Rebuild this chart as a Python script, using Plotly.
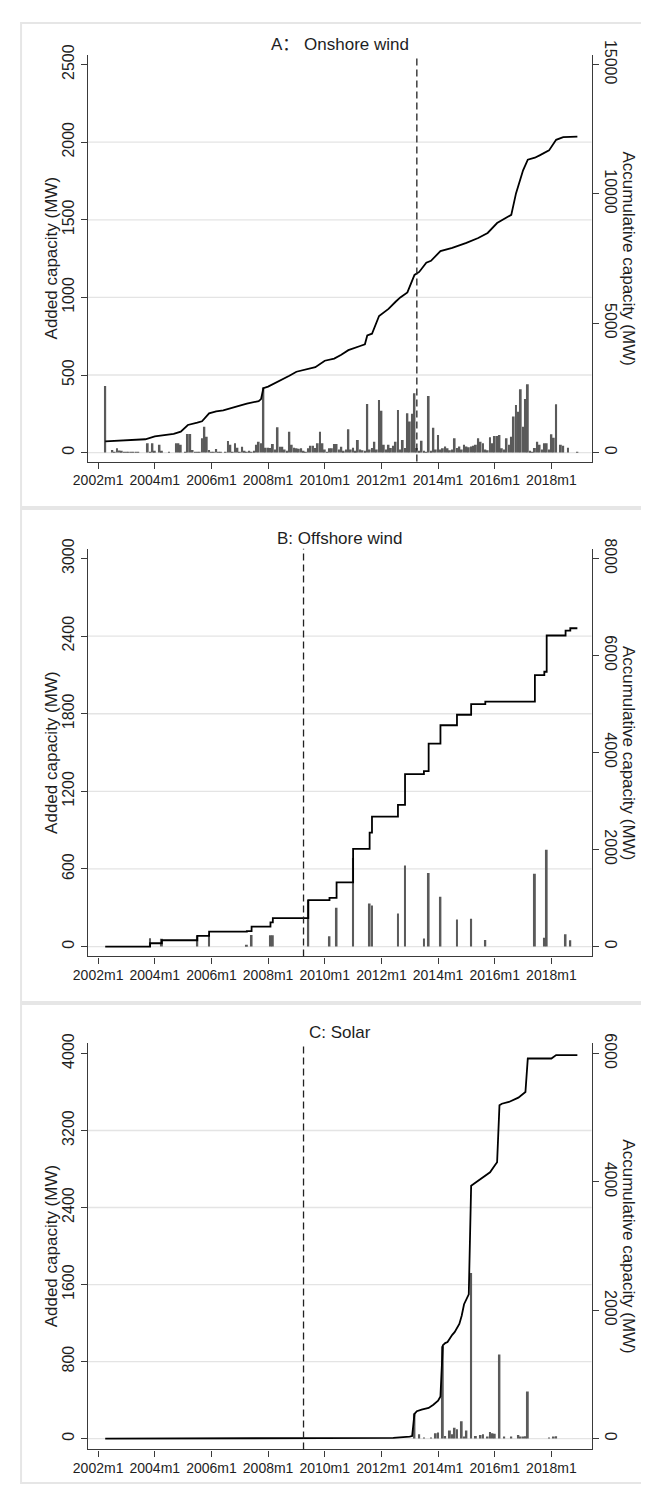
import plotly.graph_objects as go
import pandas as pd

W, H = 649, 1485
OFF = 8  # default body margin of the html page

# ---------------- DATA ----------------
# Panel A: onshore wind, monthly added capacity (MW) 2002m4 .. 2018m12
a_months = [str(p) for p in pd.period_range('2002-04', '2018-12', freq='M')]
a_added = (
    [430, 0, 0, 17, 5, 28, 13, 8, 6] +                      # 2002 (m4-m12)
    [5, 4, 3, 5, 3, 2, 0, 0, 0, 60, 5, 60] +                 # 2003
    [10, 0, 50, 12, 0, 0, 6, 0, 0, 60, 60, 50] +             # 2004
    [0, 5, 120, 120, 17, 6, 3, 2, 92, 167, 103, 17] +        # 2005
    [5, 3, 24, 5, 2, 0, 3, 75, 50, 5, 60, 32] +              # 2006
    [5, 38, 12, 5, 8, 6, 10, 50, 70, 60, 420, 32] +          # 2007
    [32, 30, 55, 20, 163, 38, 38, 20, 10, 135, 50, 32] +     # 2008
    [28, 25, 28, 10, 5, 28, 45, 45, 30, 60, 135, 60] +       # 2009
    [20, 5, 28, 28, 55, 55, 20, 38, 10, 20, 150, 20] +       # 2010
    [32, 10, 82, 20, 15, 10, 313, 20, 30, 70, 20, 339] +     # 2011
    [270, 50, 20, 50, 30, 45, 70, 275, 20, 82, 30, 253] +    # 2012
    [200, 250, 382, 30, 10, 77, 10, 5, 365, 10, 161, 20] +   # 2013
    [114, 20, 28, 40, 28, 15, 20, 92, 30, 40, 20, 50] +      # 2014
    [40, 35, 40, 45, 50, 92, 70, 60, 20, 15, 99, 60] +       # 2015
    [107, 107, 114, 28, 20, 92, 50, 103, 232, 307, 264, 408] +  # 2016
    [167, 345, 440, 10, 5, 30, 70, 50, 20, 60, 60, 20] +     # 2017
    [118, 95, 311, 0, 50, 45, 0, 32, 0, 0, 0, 6]             # 2018
)
a_cum_months = ['2002-04', '2003-09', '2004-01', '2004-09', '2004-12', '2005-03', '2005-07',
                '2005-09', '2005-12', '2006-03', '2006-06', '2006-10', '2007-01', '2007-04',
                '2007-09', '2007-10', '2007-11', '2008-01', '2008-03', '2008-06', '2008-10',
                '2009-01', '2009-05', '2009-09', '2010-01', '2010-05', '2010-08', '2010-11',
                '2011-04', '2011-06', '2011-07', '2011-09', '2011-12', '2012-04', '2012-07',
                '2012-09', '2012-12', '2013-03', '2013-05', '2013-08', '2013-10', '2014-02',
                '2014-07', '2015-01', '2015-06', '2015-10', '2016-02', '2016-04', '2016-08',
                '2016-10', '2017-01', '2017-03', '2017-06', '2017-08', '2017-12', '2018-03',
                '2018-06', '2018-12']
a_cum = [432, 516, 624, 726, 810, 1068, 1158, 1212, 1518, 1596, 1632, 1722, 1812, 1890,
         1992, 2070, 2490, 2550, 2640, 2784, 2970, 3126, 3216, 3300, 3552, 3636, 3780, 3960,
         4122, 4188, 4530, 4596, 5280, 5556, 5832, 6000, 6192, 6870, 6984, 7344, 7416, 7788,
         7914, 8106, 8298, 8490, 8874, 8976, 9192, 10020, 10914, 11322, 11400, 11490, 11682,
         12090, 12192, 12216]

# Panel B: offshore wind
b_bar_months = ['2003-11', '2004-04', '2005-07', '2005-12', '2007-04', '2007-06', '2008-02',
                '2008-03', '2009-06', '2010-03', '2010-06', '2011-01', '2011-08', '2011-09',
                '2012-08', '2012-11', '2013-07', '2013-09', '2014-02', '2014-09', '2015-03',
                '2015-09', '2017-06', '2017-10', '2017-11', '2018-07', '2018-09']
b_added = [65, 60, 85, 95, 10, 90, 87, 87, 360, 80, 300, 685, 333, 318, 256, 626, 62, 569,
           385, 210, 215, 51, 564, 69, 749, 95, 49]
b_cum_months = ['2002-04', '2003-11', '2004-04', '2005-07', '2005-12', '2007-04', '2007-06',
                '2008-02', '2008-03', '2009-06', '2010-03', '2010-06', '2011-01', '2011-08',
                '2011-09', '2012-08', '2012-11', '2013-07', '2013-09', '2014-02', '2014-09',
                '2015-03', '2015-09', '2017-06', '2017-10', '2017-11', '2018-07', '2018-09',
                '2018-12']
b_cum = [0, 69, 131, 219, 307, 320, 411, 498, 585, 957, 1005, 1325, 2016, 2349, 2680, 2920,
         3555, 3616, 4184, 4563, 4779, 4997, 5051, 5597, 5666, 6413, 6515, 6563, 6563]

# Panel C: solar
c_bar_months = ['2013-03', '2013-05', '2013-07', '2013-10', '2013-12', '2014-01', '2014-03',
                '2014-04', '2014-06', '2014-07', '2014-08', '2014-09', '2014-11', '2014-12',
                '2015-01', '2015-03', '2015-05', '2015-07', '2015-08', '2015-10', '2015-11',
                '2015-12', '2016-01', '2016-03', '2016-05', '2016-08', '2016-11', '2016-12',
                '2017-01', '2017-02', '2017-03', '2017-12', '2018-02', '2018-03']
c_added = [260, 44, 8, 10, 55, 62, 960, 27, 85, 44, 113, 96, 181, 20, 85, 1720, 27, 38, 44,
           20, 68, 55, 51, 872, 17, 17, 38, 15, 20, 25, 489, 3, 20, 25]
c_cum_months = ['2002-04', '2012-06', '2013-01', '2013-02', '2013-03', '2013-04', '2013-06',
                '2013-09', '2013-11', '2014-01', '2014-02', '2014-03', '2014-04', '2014-05',
                '2014-07', '2014-08', '2014-10', '2014-11', '2014-12', '2015-01', '2015-02',
                '2015-03', '2015-05', '2015-08', '2015-11', '2016-01', '2016-02', '2016-03',
                '2016-04', '2016-07', '2016-11', '2017-02', '2017-03', '2018-01', '2018-03',
                '2018-12']
c_cum = [0, 10, 30, 40, 384, 426, 452, 477, 528, 590, 657, 1452, 1488, 1503, 1616, 1658,
         1785, 1914, 2093, 2171, 2247, 3939, 3992, 4059, 4148, 4253, 4305, 5192, 5217, 5244,
         5312, 5400, 5922, 5922, 5975, 5975]

# axes / labels
x_tick_years = [2002, 2004, 2006, 2008, 2010, 2012, 2014, 2016, 2018]
x_tick_text = [f"{y}m1" for y in x_tick_years]
a_left_ticks = [0, 500, 1000, 1500, 2000, 2500]
a_right_ticks = [0, 5000, 10000, 15000]
b_left_ticks = [0, 600, 1200, 1800, 2400, 3000]
b_right_ticks = [0, 2000, 4000, 6000, 8000]
c_left_ticks = [0, 800, 1600, 2400, 3200, 4000]
c_right_ticks = [0, 2000, 4000, 6000]
titles = ["A： Onshore wind", "B: Offshore wind", "C: Solar"]
vline_months = ['2013-04', '2009-04', '2009-04']
left_title = "Added capacity (MW)"
right_title = "Accumulative capacity (MW)"


def dec(m):
    return int(m[:4]) + (int(m[5:7]) - 1) / 12.0


def px_x(px):
    return (px - OFF) / W


def px_y(py):
    return 1 - (py - OFF) / H


# ---------------- LAYOUT GEOMETRY (pixels in the final screenshot) ----------------
PX_L, PX_R = 74.5, 590.0
panels = [
    dict(top=40, bot=451, lrange=(-57.4, 2563.8), ratio=6.0),
    dict(top=539, bot=951, lrange=(-76.5, 3076.5), ratio=8.0 / 3.0),
    dict(top=1038, bot=1449, lrange=(-113.0, 4113.0), ratio=1.5),
]
XR = (2001.641, 2019.417)
FONT = "Liberation Sans, Arial, Noto Sans CJK SC, sans-serif"
TXT = "#1e1e1e"
AX = "#3a3a3a"

fig = go.Figure()

bar_sets = [
    ([dec(m) for m in a_months], a_added),
    ([dec(m) for m in b_bar_months], b_added),
    ([dec(m) for m in c_bar_months], c_added),
]
line_sets = [
    ([dec(m) for m in a_cum_months], a_cum, 'linear'),
    ([dec(m) for m in b_cum_months], b_cum, 'hv'),
    ([dec(m) for m in c_cum_months], c_cum, 'linear'),
]
left_ticks = [a_left_ticks, b_left_ticks, c_left_ticks]
right_ticks = [a_right_ticks, b_right_ticks, c_right_ticks]

shapes = []
annotations = []
for i, p in enumerate(panels):
    xa = 'x' if i == 0 else f'x{i+1}'
    yl = 'y' if i == 0 else f'y{2*i+1}'
    yr = f'y{2*i+2}'
    xs, ys = bar_sets[i]
    fig.add_trace(go.Bar(x=xs, y=ys, width=0.8 / 12, marker=dict(color='#5a5a5a', line=dict(width=0)),
                         xaxis=xa, yaxis=yl, showlegend=False))
    lx, ly, shp = line_sets[i]
    fig.add_trace(go.Scatter(x=lx, y=ly, mode='lines', line=dict(color='black', width=1.8, shape=shp),
                             xaxis=xa, yaxis=yr, showlegend=False))

    dom_y = [px_y(p['bot']), px_y(p['top'])]
    dom_x = [px_x(PX_L), px_x(PX_R)]
    xkey = 'xaxis' if i == 0 else f'xaxis{i+1}'
    ylkey = 'yaxis' if i == 0 else f'yaxis{2*i+1}'
    yrkey = f'yaxis{2*i+2}'
    lr = p['lrange']
    fig.layout[xkey] = dict(domain=dom_x, anchor=yl, range=list(XR), tickvals=x_tick_years,
                            ticktext=x_tick_text, ticks='outside', ticklen=6, tickwidth=1.2,
                            tickcolor=AX, showline=True, linecolor=AX, linewidth=1.3,
                            showgrid=False, zeroline=False,
                            tickfont=dict(size=14, family=FONT, color=TXT))
    fig.layout[ylkey] = dict(domain=dom_y, anchor=xa, range=list(lr), tickvals=left_ticks[i],
                             ticktext=[str(v) for v in left_ticks[i]],
                             tickangle=-90, ticks='outside', ticklen=6, tickwidth=1.2, tickcolor=AX,
                             showline=True, linecolor=AX, linewidth=1.3, showgrid=False,
                             zeroline=False, tickfont=dict(size=16, family=FONT, color=TXT))
    fig.layout[yrkey] = dict(overlaying=yl, side='right', anchor=xa,
                             range=[lr[0] * p['ratio'], lr[1] * p['ratio']],
                             tickvals=right_ticks[i], ticktext=[str(v) for v in right_ticks[i]],
                             tickangle=90, ticks='outside', ticklen=6,
                             tickwidth=1.2, tickcolor=AX, showline=True, linecolor=AX,
                             linewidth=1.3, showgrid=False, zeroline=False,
                             tickfont=dict(size=16, family=FONT, color=TXT))
    # gridlines (all left ticks except the top one)
    for v in left_ticks[i][:-1]:
        shapes.append(dict(type='line', xref=f'{xa} domain', x0=0, x1=1, yref=yl, y0=v, y1=v,
                           line=dict(color='#e4e4e4', width=1.3), layer='below'))
    # dashed vertical line
    vx = dec(vline_months[i])
    shapes.append(dict(type='line', xref=xa, x0=vx, x1=vx, yref=f'{yl} domain', y0=0, y1=1,
                       line=dict(color='#222222', width=1.3, dash='7px,4px'), layer='above'))
    # panel title
    annotations.append(dict(text=titles[i], x=px_x((PX_L + PX_R) / 2), y=px_y(p['top'] - 10),
                            xref='paper', yref='paper', showarrow=False, xanchor='center',
                            yanchor='middle', font=dict(size=17, family=FONT, color=TXT)))
    cy = px_y((p['top'] + p['bot']) / 2)
    annotations.append(dict(text=left_title, x=px_x(37), y=cy, xref='paper', yref='paper',
                            showarrow=False, textangle=-90, xanchor='center', yanchor='middle',
                            font=dict(size=17, family=FONT, color=TXT)))
    annotations.append(dict(text=right_title, x=px_x(628), y=cy, xref='paper', yref='paper',
                            showarrow=False, textangle=90, xanchor='center', yanchor='middle',
                            font=dict(size=17, family=FONT, color=TXT)))

# panel frames
for (t, b) in [(8, 497), (499, 997), (999, 1483)]:
    shapes.append(dict(type='rect', xref='paper', yref='paper', x0=px_x(6), x1=1.2,
                       y0=px_y(b), y1=px_y(t), line=dict(color='#e6e6e6', width=2),
                       fillcolor='rgba(0,0,0,0)', layer='below'))

fig.update_layout(width=W, height=H, margin=dict(l=0, r=0, t=0, b=0), autosize=False,
                  paper_bgcolor='white', plot_bgcolor='white', shapes=shapes,
                  annotations=annotations, barmode='overlay', showlegend=False)

fig.write_html("out.html")
